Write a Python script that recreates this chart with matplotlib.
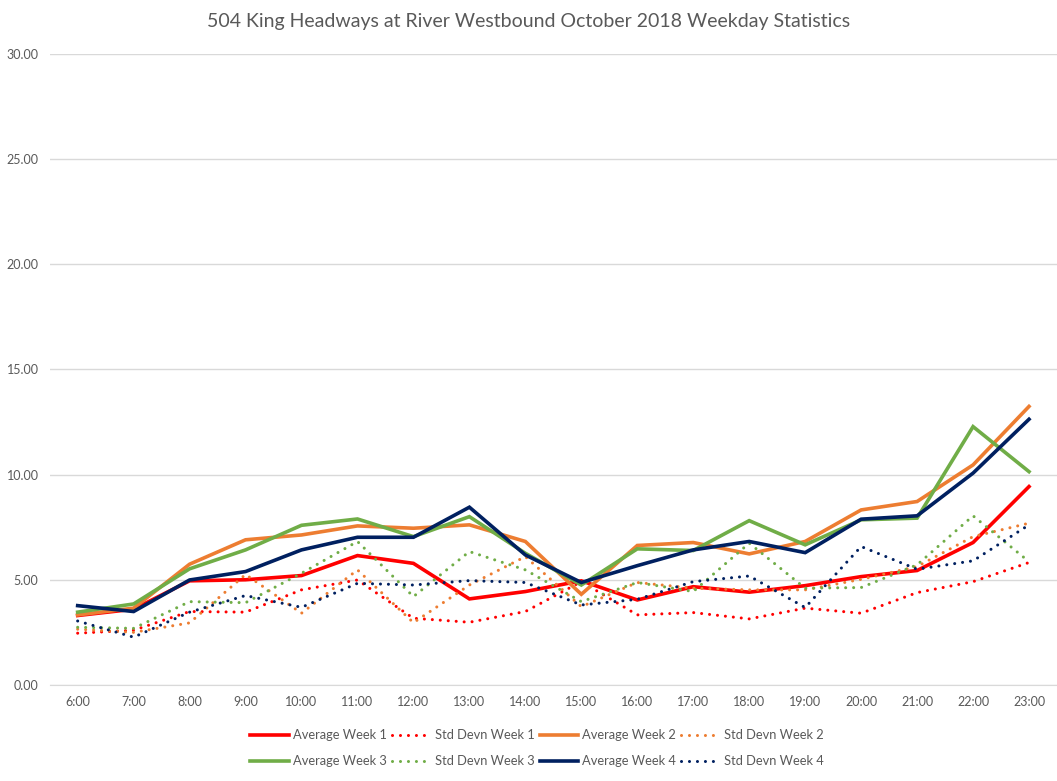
import matplotlib
matplotlib.use('Agg')
import matplotlib.pyplot as plt
import numpy as np

plt.rcParams['font.family'] = ['Lato', 'DejaVu Sans']

# Hours of the day (weekday, October 2018)
hours = ['6:00', '7:00', '8:00', '9:00', '10:00', '11:00', '12:00', '13:00', '14:00',
         '15:00', '16:00', '17:00', '18:00', '19:00', '20:00', '21:00', '22:00', '23:00']

# Headway averages and standard deviations (minutes)
avg_week1 = [3.30, 3.60, 4.95, 5.00, 5.20, 6.15, 5.78, 4.09, 4.44, 4.95, 4.04, 4.67, 4.41, 4.72, 5.15, 5.44, 6.77, 9.43]
std_week1 = [2.46, 2.60, 3.49, 3.46, 4.52, 4.99, 3.17, 2.98, 3.49, 4.91, 3.33, 3.44, 3.14, 3.65, 3.41, 4.39, 4.91, 5.82]
avg_week2 = [3.33, 3.65, 5.74, 6.90, 7.13, 7.56, 7.45, 7.61, 6.82, 4.31, 6.63, 6.77, 6.23, 6.82, 8.32, 8.72, 10.46, 13.24]
std_week2 = [2.65, 2.50, 2.95, 5.25, 3.41, 5.47, 2.96, 4.75, 6.10, 3.72, 4.87, 4.60, 4.52, 4.52, 5.02, 5.63, 7.05, 7.69]
avg_week3 = [3.46, 3.85, 5.52, 6.42, 7.59, 7.89, 7.05, 8.00, 6.26, 4.75, 6.47, 6.39, 7.81, 6.66, 7.85, 7.93, 12.28, 10.14]
std_week3 = [2.74, 2.69, 3.96, 3.91, 5.31, 6.82, 4.20, 6.34, 5.47, 3.96, 4.87, 4.44, 6.74, 4.60, 4.63, 5.71, 8.04, 5.86]
avg_week4 = [3.77, 3.49, 4.99, 5.39, 6.42, 7.02, 7.02, 8.45, 6.18, 4.87, 5.67, 6.42, 6.82, 6.29, 7.88, 8.04, 10.07, 12.63]
std_week4 = [3.04, 2.27, 3.46, 4.25, 3.69, 4.83, 4.75, 4.96, 4.87, 3.80, 4.07, 4.91, 5.18, 3.68, 6.58, 5.50, 5.90, 7.61]

colors = ['#FF0000', '#ED7D31', '#70AD47', '#002060']

fig = plt.figure(figsize=(10.57, 7.81), dpi=100)
ax = fig.add_axes([0.047, 0.123, 0.953, 0.808])

x = np.arange(len(hours))
series = [
    ('Average Week 1', avg_week1, colors[0], '-'),
    ('Std Devn Week 1', std_week1, colors[0], ':'),
    ('Average Week 2', avg_week2, colors[1], '-'),
    ('Std Devn Week 2', std_week2, colors[1], ':'),
    ('Average Week 3', avg_week3, colors[2], '-'),
    ('Std Devn Week 3', std_week3, colors[2], ':'),
    ('Average Week 4', avg_week4, colors[3], '-'),
    ('Std Devn Week 4', std_week4, colors[3], ':'),
]

handles = []
for label, vals, col, ls in series:
    if ls == '-':
        h, = ax.plot(x, vals, color=col, linewidth=2.6, label=label, solid_joinstyle='miter')
    else:
        h, = ax.plot(x, vals, color=col, linewidth=2.2, label=label,
                     linestyle=(0, (0.01, 2.6)), dash_capstyle='round')
    handles.append(h)

ax.set_xlim(-0.5, len(hours) - 0.5)
ax.set_ylim(0, 30)
ax.set_yticks(np.arange(0, 31, 5))
ax.set_yticklabels([f'{v:.2f}' for v in np.arange(0, 31, 5)])
ax.set_xticks(x)
ax.set_xticklabels(hours)
ax.tick_params(axis='both', length=0, labelsize=9, colors='#595959', pad=8)
ax.grid(axis='y', color='#D9D9D9', linewidth=1)
ax.set_axisbelow(True)
for s in ['top', 'right', 'left']:
    ax.spines[s].set_visible(False)
ax.spines['bottom'].set_color('#D9D9D9')

fig.text(0.5, 0.972, '504 King Headways at River Westbound October 2018 Weekday Statistics',
         ha='center', va='center', fontsize=14, color='#595959')

# legend fills column-wise, so reorder to read row-wise like the original
order = [0, 4, 1, 5, 2, 6, 3, 7]
leg = fig.legend([handles[i] for i in order], [series[i][0] for i in order],
                 loc='center', bbox_to_anchor=(0.508, 0.042), ncol=4, frameon=False,
                 fontsize=9.3, handlelength=3.0, columnspacing=0.4, handletextpad=0.3,
                 labelspacing=1.1)
for t in leg.get_texts():
    t.set_color('#595959')

fig.savefig('out.png', dpi=100)
